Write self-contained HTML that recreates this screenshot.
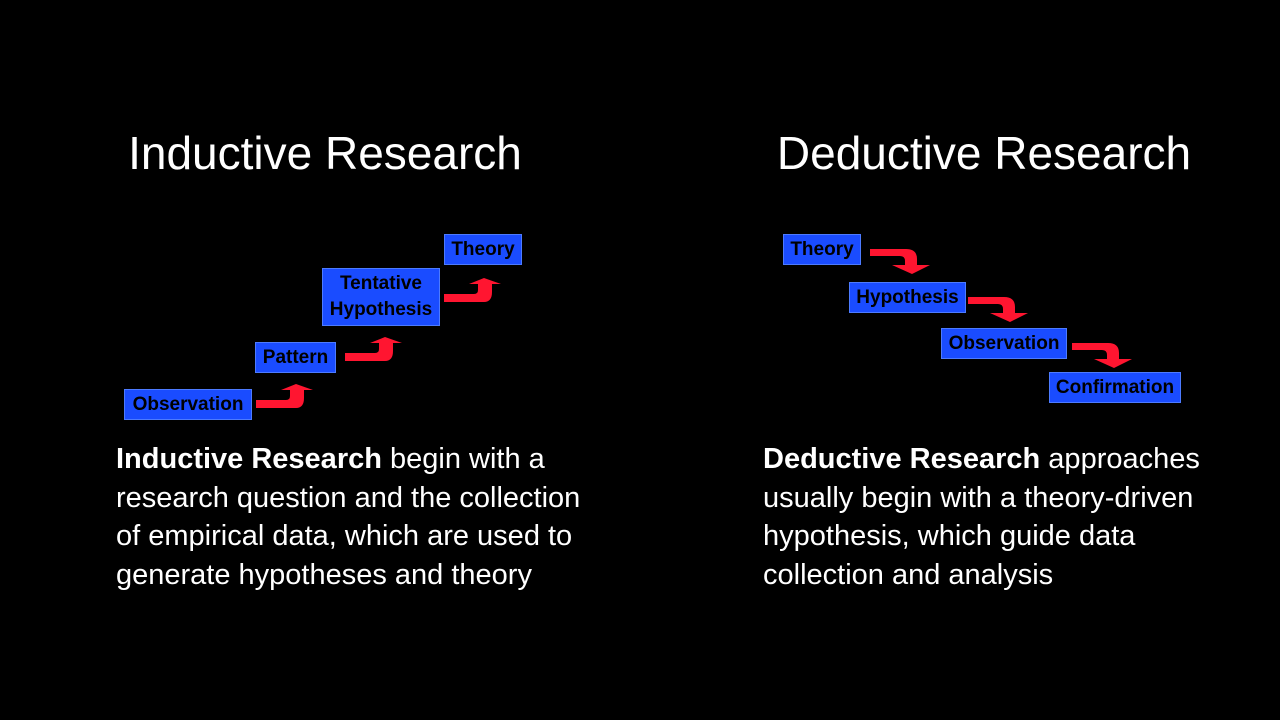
<!DOCTYPE html>
<html><head><style>
body{margin:0;width:1280px;height:720px;background:#000;overflow:hidden;position:relative;font-family:"Liberation Sans",sans-serif}
.t{position:absolute;color:#fff;font-size:46px;white-space:nowrap;top:126px}
.b{position:absolute;color:#fff;font-size:29px;line-height:38.5px;top:440px;white-space:nowrap}
.box{position:absolute;background:#1a4cff;color:#000;font-size:19px;font-weight:bold;text-align:center;box-sizing:border-box;border:1px solid #4d7bff;line-height:30px}
</style></head><body>
<div class="t" style="left:100px;width:450px;text-align:center">Inductive Research</div>
<div class="t" style="left:759px;width:450px;text-align:center">Deductive Research</div>

<div class="box" style="left:124px;top:389px;width:128px;height:31px">Observation</div>
<div class="box" style="left:255px;top:342px;width:81px;height:31px">Pattern</div>
<div class="box" style="left:322px;top:268px;width:118px;height:58px;line-height:26px;padding-top:2px">Tentative<br>Hypothesis</div>
<div class="box" style="left:444px;top:234px;width:78px;height:31px">Theory</div>

<div class="box" style="left:783px;top:234px;width:78px;height:31px">Theory</div>
<div class="box" style="left:849px;top:282px;width:117px;height:31px">Hypothesis</div>
<div class="box" style="left:941px;top:328px;width:126px;height:31px">Observation</div>
<div class="box" style="left:1049px;top:372px;width:132px;height:31px">Confirmation</div>

<svg width="1280" height="720" style="position:absolute;left:0;top:0">
<defs>
<path id="up" d="M0,16 L0,24 L40,24 Q48,24 48,14 L48,6 L57,6 L40,0 L25,6 L34,6 L34,12 Q34,16 30,16 Z" fill="#ff1530"/>
<path id="dn" d="M0,0 L0,7 L30,7 Q35,7 35,12 L35,16 L22,16 L42,25 L60,16 L47,16 L47,10 Q47,0 36,0 Z" fill="#ff1530"/>
</defs>
<use href="#up" x="256" y="384"/>
<use href="#up" x="345" y="337"/>
<use href="#up" x="444" y="278"/>
<use href="#dn" x="870" y="249"/>
<use href="#dn" x="968" y="297"/>
<use href="#dn" x="1072" y="343"/>
</svg>

<div class="b" style="left:116px"><b>Inductive Research</b> begin with a<br>research question and the collection<br>of empirical data, which are used to<br>generate hypotheses and theory</div>
<div class="b" style="left:763px"><b>Deductive Research</b> approaches<br>usually begin with a theory-driven<br>hypothesis, which guide data<br>collection and analysis</div>
</body></html>
